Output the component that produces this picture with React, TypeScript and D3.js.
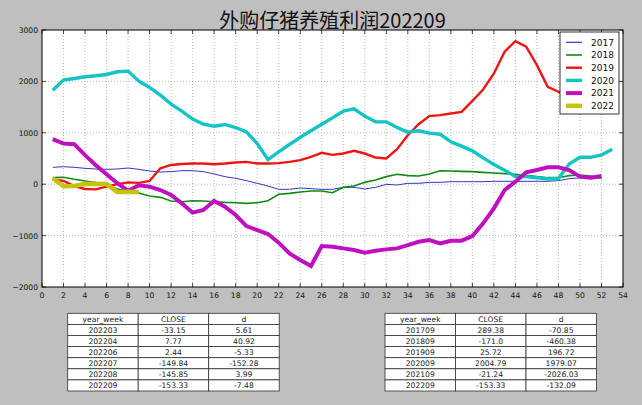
import React from "react";
import * as d3 from "d3";

const WIDTH = 642;
const HEIGHT = 405;

const titleText = "外购仔猪养殖利润202209";

const years = ["2017", "2018", "2019", "2020", "2021", "2022"];

const y2017 = [328, 341, 328, 309, 296, 289, 296, 315, 289.38, 257, 237, 244, 263, 263, 244, 199, 147, 114, 69, 17, -35, -100, -100, -74, -87, -100, -100, -61, -61, -93, -61, -3, -16, 17, 17, 36, 36, 49, 49, 49, 49, 56, 56, 56, 56, 56, 56, 69, 108, 121, 121, 121];
const y2018 = [127, 134, 95, 62, 30, -16, -93, -132, -171, -230, -256, -327, -340, -321, -327, -340, -353, -360, -373, -360, -321, -197, -178, -152, -132, -132, -165, -61, -35, 36, 82, 147, 192, 166, 160, 199, 263, 257, 250, 244, 231, 218, 205, 192, 173, 147, 127, 127, 166, 179, 160, 114];
const y2019 = [95, 62, -35, -93, -100, -48, 0, 36, 25.72, 62, 309, 374, 393, 402, 402, 389, 402, 422, 435, 402, 402, 410, 435, 467, 532, 610, 571, 597, 649, 597, 519, 500, 681, 954, 1168, 1324, 1343, 1376, 1408, 1622, 1843, 2155, 2577, 2784, 2674, 2317, 1895, 1798, 1700, 1650, 1750, 1800];
const y2020 = [1830, 2025, 2057, 2090, 2110, 2135, 2187, 2200, 2004.79, 1882, 1733, 1558, 1421, 1266, 1168, 1129, 1162, 1103, 1019, 792, 480, 630, 772, 910, 1040, 1165, 1290, 1420, 1467, 1324, 1213, 1213, 1103, 1012, 1038, 993, 973, 824, 740, 649, 512, 383, 273, 150, 150, 125, 100, 110, 393, 523, 523, 568, 681];
const y2021 = [876, 792, 779, 565, 370, 195, 20, -126, -21.24, -48, -113, -210, -373, -554, -502, -327, -437, -600, -814, -892, -970, -1138, -1346, -1476, -1592, -1203, -1216, -1249, -1281, -1333, -1294, -1268, -1249, -1184, -1119, -1087, -1151, -1099, -1099, -1008, -762, -470, -113, 49, 231, 276, 328, 328, 276, 147, 127, 160];
const weeks2022 = [1, 2, 3, 4, 6, 7, 8, 9];
const y2022 = [115, -38.76, -33.15, 7.77, 2.44, -149.84, -145.85, -153.33];

const xTicks = d3.range(0, 55, 2);
const yTicks = [-2000, -1000, 0, 1000, 2000, 3000];

const tableHeader = ["year_week", "CLOSE", "d"];
const leftWeeks = ["202203", "202204", "202206", "202207", "202208", "202209"];
const leftClose = ["-33.15", "7.77", "2.44", "-149.84", "-145.85", "-153.33"];
const leftD = ["5.61", "40.92", "-5.33", "-152.28", "3.99", "-7.48"];
const rightWeeks = ["201709", "201809", "201909", "202009", "202109", "202209"];
const rightClose = ["289.38", "-171.0", "25.72", "2004.79", "-21.24", "-153.33"];
const rightD = ["-70.85", "-460.38", "196.72", "1979.07", "-2026.03", "-132.09"];

const colors = ["#3535c4", "#118a11", "#f01515", "#14c4c4", "#bf10bf", "#c4c410"];
const widths = [1, 1.6, 2.4, 3.4, 4, 4.5];

function Table({ left, top, weeks, close, d }) {
  const colW = 70.5;
  const rowH = 11.1;
  const rows = [tableHeader, ...weeks.map((w, i) => [w, close[i], d[i]])];
  return (
    <g>
      {rows.map((r, ri) =>
        r.map((c, ci) => (
          <g key={`${ri}-${ci}`}>
            <rect x={left + ci * colW} y={top + ri * rowH} width={colW} height={rowH} fill="#ffffff" stroke="#333" strokeWidth={0.8} />
            <text x={left + ci * colW + colW / 2} y={top + ri * rowH + rowH / 2 + 3} textAnchor="middle" fontSize={7.6} fontFamily="DejaVu Sans" fill="#222">{c}</text>
          </g>
        ))
      )}
    </g>
  );
}

export default function App() {
  const x = d3.scaleLinear().domain([0, 54]).range([42, 623]);
  const y = d3.scaleLinear().domain([-2000, 3000]).range([287, 30]);
  const fmt = d3.format("d");
  const line = d3.line<[number, number]>().x((p) => x(p[0])).y((p) => y(p[1]));
  const series = [y2017, y2018, y2019, y2020, y2021].map((arr) => arr.map((v, i) => [i + 1, v] as [number, number]));
  series.push(weeks2022.map((w, i) => [w, y2022[i]] as [number, number]));
  const [x0, x1] = x.range();
  const [yb, yt] = y.range();
  const lx = 560, ly = 32, lw = 59, lh = 82;
  return (
    <svg width={WIDTH} height={HEIGHT} style={{ position: "absolute", left: 0, top: 0 }}>
      <rect width={WIDTH} height={HEIGHT} fill="#bfbfbf" />
      <text x={(x0 + x1) / 2} y={28} textAnchor="middle" fontSize={20} fontFamily="Noto Sans CJK SC" fill="#111">{titleText}</text>
      <rect x={x0} y={yt} width={x1 - x0} height={yb - yt} fill="#fff" />
      <defs>
        <clipPath id="plotclip"><rect x={x0} y={yt} width={x1 - x0} height={yb - yt} /></clipPath>
      </defs>
      {xTicks.slice(1, -1).map((t) => (
        <line key={"gx" + t} x1={x(t)} x2={x(t)} y1={yt} y2={yb} stroke="#888" strokeWidth={0.6} strokeDasharray="1,2" />
      ))}
      {yTicks.slice(1, -1).map((t) => (
        <line key={"gy" + t} x1={x0} x2={x1} y1={y(t)} y2={y(t)} stroke="#888" strokeWidth={0.6} strokeDasharray="1,2" />
      ))}
      <g clipPath="url(#plotclip)">
        {series.map((pts, i) => (
          <path key={years[i]} d={line(pts) || ""} fill="none" stroke={colors[i]} strokeWidth={widths[i]} strokeLinejoin="miter" />
        ))}
      </g>
      {xTicks.map((t) => (
        <g key={"tx" + t}>
          <line x1={x(t)} x2={x(t)} y1={yb} y2={yb - 4} stroke="#000" strokeWidth={0.7} />
          <line x1={x(t)} x2={x(t)} y1={yt} y2={yt + 4} stroke="#000" strokeWidth={0.7} />
          <text x={x(t)} y={yb + 11} textAnchor="middle" fontSize={7.6} fontFamily="DejaVu Sans" fill="#111">{t}</text>
        </g>
      ))}
      {yTicks.map((t) => (
        <g key={"ty" + t}>
          <line x1={x0} x2={x0 + 4} y1={y(t)} y2={y(t)} stroke="#000" strokeWidth={0.7} />
          <line x1={x1} x2={x1 - 4} y1={y(t)} y2={y(t)} stroke="#000" strokeWidth={0.7} />
          <text x={x0 - 4} y={y(t) + 3} textAnchor="end" fontSize={7.6} fontFamily="DejaVu Sans" fill="#111">{fmt(t)}</text>
        </g>
      ))}
      <rect x={x0} y={yt} width={x1 - x0} height={yb - yt} fill="none" stroke="#000" strokeWidth={1} />
      <g>
        <rect x={lx} y={ly} width={lw} height={lh} fill="#fff" stroke="#000" strokeWidth={0.8} />
        {years.map((yr, i) => {
          const cy = 42.3 + i * 12.7;
          return (
            <g key={"lg" + yr}>
              <line x1={566} x2={582} y1={cy} y2={cy} stroke={colors[i]} strokeWidth={Math.max(widths[i], 1.2)} />
              <text x={591} y={cy + 3.3} fontSize={9} fontFamily="DejaVu Sans" fill="#111">{yr}</text>
            </g>
          );
        })}
      </g>
      <Table left={67.7} top={313.3} weeks={leftWeeks} close={leftClose} d={leftD} />
      <Table left={385} top={313.3} weeks={rightWeeks} close={rightClose} d={rightD} />
    </svg>
  );
}
